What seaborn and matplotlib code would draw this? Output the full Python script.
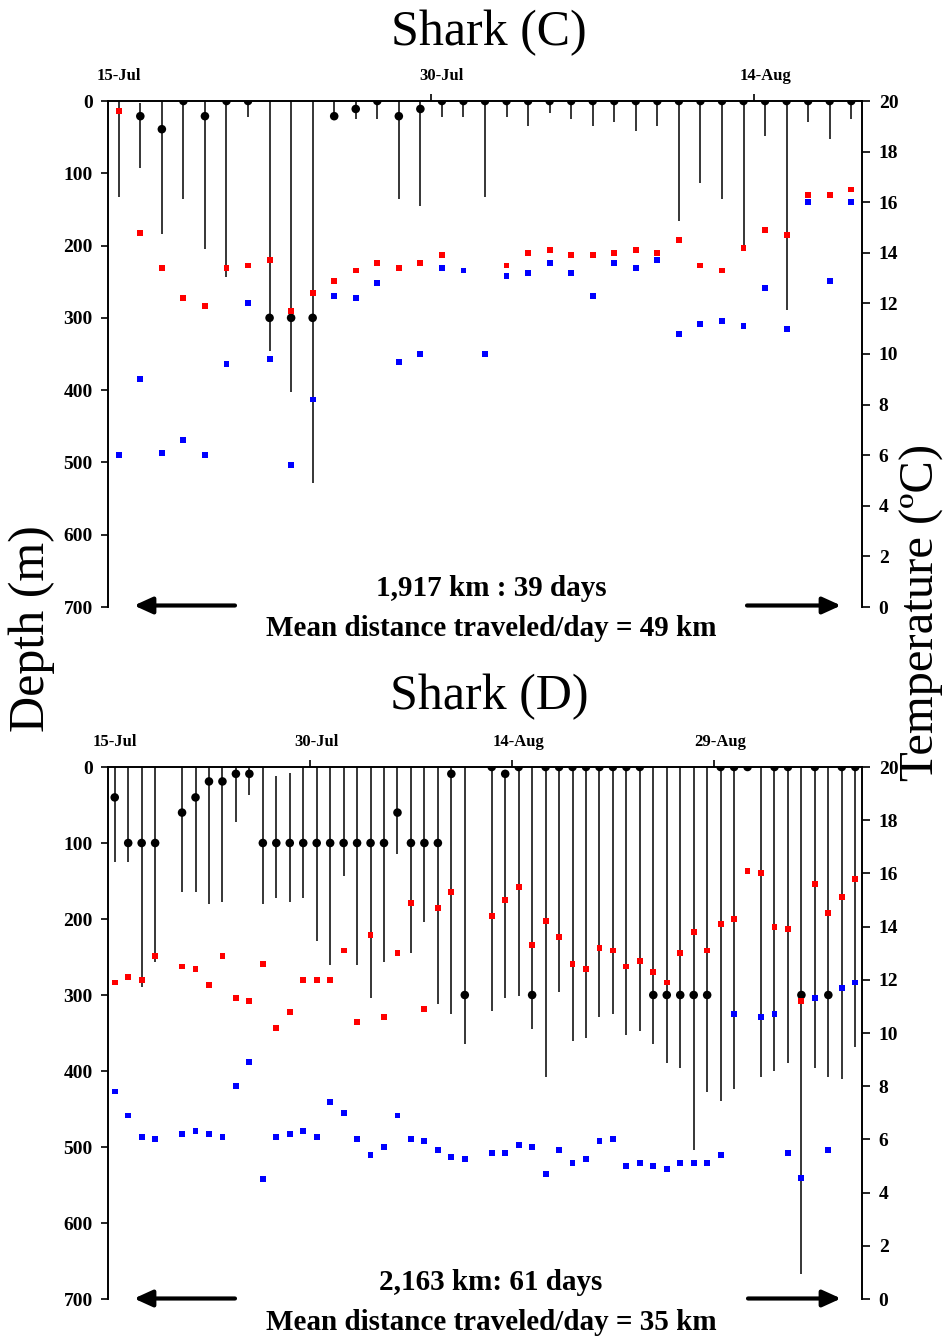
import numpy as np
import pandas as pd
import matplotlib
matplotlib.use("Agg")
import matplotlib.pyplot as plt
import seaborn as sns

nan = np.nan

# ---------------- Shark (C) ----------------
c_dot_depth = [nan, 21, 39, 0, 21, 0, 0, 300, 300, 300, 21, 11, 0, 21, 11, 0, 0, 0,
               0, 0, 0, 0, 0, 0, 0, 0, 0, 0, 0, 0, 0, 0, 0, 0, 0]
c_line_top = [0, 3, 0, 0, 0, 0, 0, 0, 0, 0, 0, 0, 0, 0, 0, 0, 0, 0,
              0, 0, 0, 0, 0, 0, 0, 0, 0, 0, 0, 0, 0, 0, 0, 0, 0]
c_line_bottom = [133, 93, 184, 136, 205, 244, 22, 346, 403, 529, 21, 25, 25, 136, 145, 22, 22, 133,
                 22, 34, 17, 25, 34, 29, 41, 34, 166, 113, 136, 202, 49, 289, 29, 53, 25]
c_temp_red = [19.6, 14.8, 13.4, 12.2, 11.9, 13.4, 13.5, 13.7, 11.7, 12.4, 12.9, 13.3, 13.6, 13.4, 13.6, 13.9, nan, nan,
              13.5, 14.0, 14.1, 13.9, 13.9, 14.0, 14.1, 14.0, 14.5, 13.5, 13.3, 14.2, 14.9, 14.7, 16.3, 16.3, 16.5]
c_temp_blue = [6.0, 9.0, 6.1, 6.6, 6.0, 9.6, 12.0, 9.8, 5.6, 8.2, 12.3, 12.2, 12.8, 9.7, 10.0, 13.4, 13.3, 10.0,
               13.1, 13.2, 13.6, 13.2, 12.3, 13.6, 13.4, 13.7, 10.8, 11.2, 11.3, 11.1, 12.6, 11.0, 16.0, 12.9, 16.0]
c_date_labels = ["15-Jul", "30-Jul", "14-Aug"]
c_date_pos = [0, 15, 30]

# ---------------- Shark (D) ----------------
d_dot_depth = [40, 100, 100, 100, nan, 60, 40, 19, 19, 9, 9, 100, 100, 100, 100, 100, 100, 100,
               100, 100, 100, 60, 100, 100, 100, 9, 300, nan, 0, 9, 0, 300, 0, 0, 0, 0,
               0, 0, 0, 0, 300, 300, 300, 300, 300, 0, 0, 0, nan, 0, 0, 300, 0, 300, 0, 0]
d_line_top = [0, 0, 0, 0, nan, 0, 0, 0, 0, 0, 0, 0, 12, 8, 0, 0, 0, 0,
              0, 0, 0, 0, 0, 0, 0, 0, 0, nan, 0, 9, 0, 0, 0, 0, 0, 0,
              0, 0, 0, 0, 0, 0, 0, 0, 0, 0, 0, nan, 0, 0, 0, 0, 0, 0, 0, 0]
d_line_bottom = [125, 125, 289, 257, nan, 165, 165, 180, 177, 72, 37, 180, 172, 177, 172, 229, 260, 144,
                 260, 304, 257, 114, 245, 204, 312, 325, 364, nan, 321, 304, 301, 345, 408, 296, 361, 356,
                 329, 325, 353, 348, 364, 389, 396, 504, 428, 440, 424, nan, 408, 400, 389, 667, 396, 408, 411, 369]
d_temp_red = [11.9, 12.1, 12.0, 12.9, nan, 12.5, 12.4, 11.8, 12.9, 11.3, 11.2, 12.6, 10.2, 10.8, 12.0, 12.0, 12.0, 13.1,
              10.4, 13.7, 10.6, 13.0, 14.9, 10.9, 14.7, 15.3, nan, nan, 14.4, 15.0, 15.5, 13.3, 14.2, 13.6, 12.6, 12.4,
              13.2, 13.1, 12.5, 12.7, 12.3, 11.9, 13.0, 13.8, 13.1, 14.1, 14.3, 16.1, 16.0, 14.0, 13.9, 11.2, 15.6, 14.5, 15.1, 15.8]
d_temp_blue = [7.8, 6.9, 6.1, 6.0, nan, 6.2, 6.3, 6.2, 6.1, 8.0, 8.9, 4.5, 6.1, 6.2, 6.3, 6.1, 7.4, 7.0,
               6.0, 5.4, 5.7, 6.9, 6.0, 5.95, 5.6, 5.35, 5.25, nan, 5.5, 5.5, 5.8, 5.7, 4.7, 5.6, 5.1, 5.25,
               5.95, 6.0, 5.0, 5.1, 5.0, 4.9, 5.1, 5.1, 5.1, 5.4, 10.7, 16.1, 10.6, 10.7, 5.5, 4.55, 11.3, 5.6, 11.7, 11.9]
d_date_labels = ["15-Jul", "30-Jul", "14-Aug", "29-Aug"]
d_date_pos = [0, 15, 30, 45]

depth_ticks = [0, 100, 200, 300, 400, 500, 600, 700]
temp_ticks = [0, 2, 4, 6, 8, 10, 12, 14, 16, 18, 20]

sns.set_theme(style="white")
plt.rcParams["font.family"] = ["Liberation Serif", "DejaVu Serif"]
plt.rcParams["text.color"] = "black"
plt.rcParams["axes.labelcolor"] = "black"
plt.rcParams["xtick.color"] = "black"
plt.rcParams["ytick.color"] = "black"

W, H = 951, 1338
fig = plt.figure(figsize=(W / 100, H / 100), dpi=100)


def panel(rect, dot, top, bottom, red, blue, dlabels, dpos):
    n = len(dot)
    x = np.arange(n)
    ax = fig.add_axes(rect)
    df = pd.DataFrame({"x": x, "dot": dot, "top": top, "bottom": bottom,
                       "red": red, "blue": blue})
    lines = df.dropna(subset=["top", "bottom"])
    ax.vlines(lines["x"], lines["top"], lines["bottom"], color="black", lw=1.1, zorder=2)
    sns.scatterplot(data=df.dropna(subset=["dot"]), x="x", y="dot", ax=ax, color="black",
                    marker="o", s=38, edgecolor="none", zorder=3, legend=False)
    ax.set_xlim(-0.5, n - 0.5)
    ax.set_ylim(700, 0)
    ax.set_yticks(depth_ticks)
    ax.set_yticklabels([str(t) for t in depth_ticks], fontsize=14, fontweight="bold", color="black")
    ax.xaxis.tick_top()
    ax.set_xticks(dpos)
    ax.set_xticklabels(dlabels, fontsize=12, fontweight="bold", color="black")
    bounds = [p - 0.5 for p in dpos[1:]]
    ax.set_xticks(bounds, minor=True)
    ax.tick_params(axis="x", which="major", length=0, pad=12)
    ax.tick_params(axis="x", which="minor", length=5, width=1.2, direction="out", color="black", top=True, bottom=False)
    ax.tick_params(axis="y", which="major", length=5, width=1.2, direction="out", color="black",
                   left=True, pad=6, labelcolor="black")
    ax.set_xlabel("")
    ax.set_ylabel("")
    for s in ["bottom", "right"]:
        ax.spines[s].set_visible(False)
    for s in ["top", "left"]:
        ax.spines[s].set_visible(True)
        ax.spines[s].set_color("black")
        ax.spines[s].set_linewidth(1.4)
    ax.grid(False)

    ax2 = ax.twinx()
    sns.scatterplot(data=df.dropna(subset=["blue"]), x="x", y="blue", ax=ax2, color="#0000FF",
                    marker="s", s=18, edgecolor="none", zorder=4, legend=False)
    sns.scatterplot(data=df.dropna(subset=["red"]), x="x", y="red", ax=ax2, color="#FF0000",
                    marker="s", s=18, edgecolor="none", zorder=5, legend=False)
    ax2.set_ylim(0, 20)
    ax2.set_xlim(-0.5, n - 0.5)
    ax2.set_yticks(temp_ticks)
    ax2.set_yticklabels([str(t) for t in temp_ticks], fontsize=14, fontweight="bold", color="black")
    ax2.tick_params(axis="y", length=6, width=1.2, direction="out", color="black", right=True, pad=6,
                    labelcolor="black")
    ax2.set_ylabel("")
    ax2.set_xlabel("")
    for s in ["top", "bottom", "left"]:
        ax2.spines[s].set_visible(False)
    ax2.spines["right"].set_visible(True)
    ax2.spines["right"].set_color("black")
    ax2.spines["right"].set_linewidth(1.4)
    ax2.grid(False)
    return ax, ax2


axC, axC2 = panel([108 / W, 1 - 607 / H, 754 / W, 506 / H], c_dot_depth, c_line_top, c_line_bottom,
                  c_temp_red, c_temp_blue, c_date_labels, c_date_pos)
axD, axD2 = panel([108 / W, 1 - 1299 / H, 754 / W, 532 / H], d_dot_depth, d_line_top, d_line_bottom,
                  d_temp_red, d_temp_blue, d_date_labels, d_date_pos)


def ftext(x, y, s, **kw):
    fig.text(x / W, 1 - y / H, s, ha="center", va="center", color="black", **kw)


ftext(489, 33, "Shark (C)", fontsize=36)
ftext(489, 697, "Shark (D)", fontsize=36)
ftext(491, 589, "1,917 km : 39 days", fontsize=21, fontweight="bold")
ftext(491, 629, "Mean distance traveled/day = 49 km", fontsize=21, fontweight="bold")
ftext(491, 1283, "2,163 km: 61 days", fontsize=21, fontweight="bold")
ftext(491, 1322, "Mean distance traveled/day = 35 km", fontsize=21, fontweight="bold")
fig.text(32 / W, 1 - 629 / H, "Depth (m)", rotation=90, ha="center", va="center", fontsize=36, color="black")
fig.text(922 / W, 1 - 612 / H, "Temperature (ºC)", rotation=90, ha="center", va="center", fontsize=35,
         color="black")


def farrow(x0, x1, y):
    fig.add_artist(matplotlib.patches.FancyArrowPatch(
        (x0 / W, 1 - y / H), (x1 / W, 1 - y / H), transform=fig.transFigure,
        arrowstyle="-|>,head_length=0.55,head_width=0.25", mutation_scale=20,
        lw=3, color="black", shrinkA=0, shrinkB=0))


farrow(235, 134, 605.5)
farrow(747, 841, 605.5)
farrow(235, 134, 1298.5)
farrow(748, 841, 1298.5)

fig.savefig("out.png", dpi=100)
